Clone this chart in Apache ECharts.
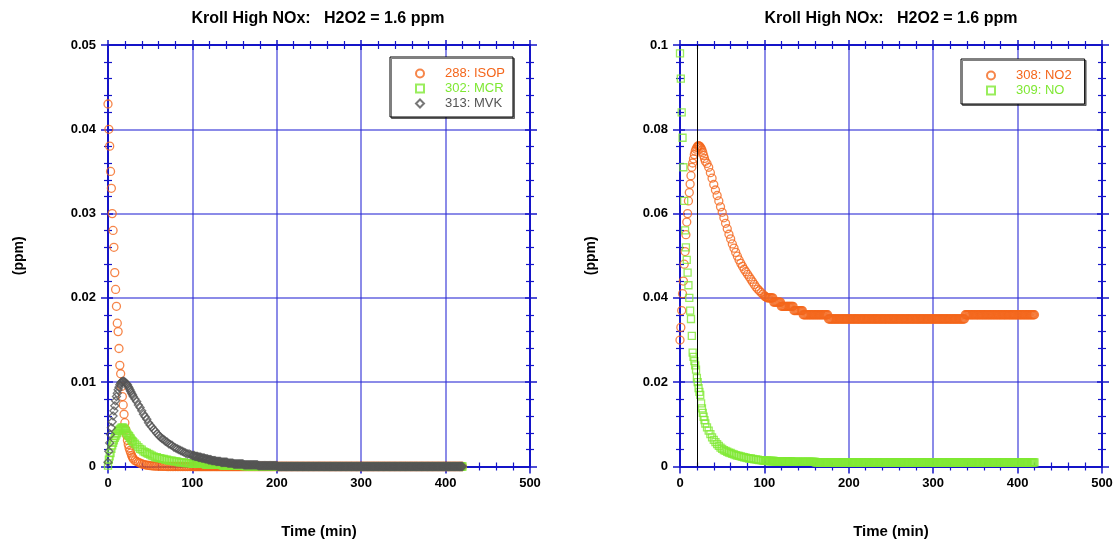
<!DOCTYPE html>
<html>
<head>
<meta charset="utf-8">
<title>Kroll High NOx</title>
<script src="https://cdn.jsdelivr.net/npm/echarts@6/dist/echarts.min.js"></script>
<style>
  html, body { margin: 0; padding: 0; background: #fff; }
  #chart { width: 1114px; height: 540px; }
</style>
</head>
<body>
<div id="chart"></div>
<script>
// time (min), shared by all series
const times = [
  0,1,2,3,4,5,6,7,8,9,10,11,12,13,14,15,16,17,18,19,20,21,22,23,24,25,26,27,28,29,30,
  32,34,36,38,40,42,44,46,48,50,52,54,56,58,60,62,64,66,68,70,72,74,76,78,80,82,84,86,88,90,92,94,96,98,100,
  101,102,103,104,105,106,107,108,109,110,111,112,113,114,115,116,117,118,119,120,
  121,122,123,124,125,126,127,128,129,130,131,132,133,134,135,136,137,138,139,140,
  141,142,143,144,145,146,147,148,149,150,151,152,153,154,155,156,157,158,159,160,
  161,162,163,164,165,166,167,168,169,170,171,172,173,174,175,176,177,178,179,180,
  181,182,183,184,185,186,187,188,189,190,191,192,193,194,195,196,197,198,199,200,
  201,202,203,204,205,206,207,208,209,210,211,212,213,214,215,216,217,218,219,220,
  221,222,223,224,225,226,227,228,229,230,231,232,233,234,235,236,237,238,239,240,
  241,242,243,244,245,246,247,248,249,250,251,252,253,254,255,256,257,258,259,260,
  261,262,263,264,265,266,267,268,269,270,271,272,273,274,275,276,277,278,279,280,
  281,282,283,284,285,286,287,288,289,290,291,292,293,294,295,296,297,298,299,300,
  301,302,303,304,305,306,307,308,309,310,311,312,313,314,315,316,317,318,319,320,
  321,322,323,324,325,326,327,328,329,330,331,332,333,334,335,336,337,338,339,340,
  341,342,343,344,345,346,347,348,349,350,351,352,353,354,355,356,357,358,359,360,
  361,362,363,364,365,366,367,368,369,370,371,372,373,374,375,376,377,378,379,380,
  381,382,383,384,385,386,387,388,389,390,391,392,393,394,395,396,397,398,399,400,
  401,402,403,404,405,406,407,408,409,410,411,412,413,414,415,416,417,418,419,420
];

// left panel (ppm)
const isop = [
  0.043,0.040,0.038,0.035,0.033,0.030,0.028,0.026,0.023,0.021,0.019,0.017,0.016,0.014,0.012,0.011,0.0095,0.0083,0.0073,0.0062,0.0052,0.0044,0.0037,0.0031,0.0026,0.0022,0.0019,0.0016,0.0013,0.0011,0.0009,
  0.0007,0.0006,0.0005,0.0004,0.0003,0.00025,0.0002,0.00016,0.00013,0.0001,0.00008,0.00006,0.00005,0.00004,0.00003,0.00002,0.00002,0.00001,0.00001,0,0,0,0,0,0,0,0,0,0,0,0,0,0,0,0,
  0,0,0,0,0,0,0,0,0,0,0,0,0,0,0,0,0,0,0,0,
  0,0,0,0,0,0,0,0,0,0,0,0,0,0,0,0,0,0,0,0,
  0,0,0,0,0,0,0,0,0,0,0,0,0,0,0,0,0,0,0,0,
  0,0,0,0,0,0,0,0,0,0,0,0,0,0,0,0,0,0,0,0,
  0,0,0,0,0,0,0,0,0,0,0,0,0,0,0,0,0,0,0,0,
  0,0,0,0,0,0,0,0,0,0,0,0,0,0,0,0,0,0,0,0,
  0,0,0,0,0,0,0,0,0,0,0,0,0,0,0,0,0,0,0,0,
  0,0,0,0,0,0,0,0,0,0,0,0,0,0,0,0,0,0,0,0,
  0,0,0,0,0,0,0,0,0,0,0,0,0,0,0,0,0,0,0,0,
  0,0,0,0,0,0,0,0,0,0,0,0,0,0,0,0,0,0,0,0,
  0,0,0,0,0,0,0,0,0,0,0,0,0,0,0,0,0,0,0,0,
  0,0,0,0,0,0,0,0,0,0,0,0,0,0,0,0,0,0,0,0,
  0,0,0,0,0,0,0,0,0,0,0,0,0,0,0,0,0,0,0,0,
  0,0,0,0,0,0,0,0,0,0,0,0,0,0,0,0,0,0,0,0,
  0,0,0,0,0,0,0,0,0,0,0,0,0,0,0,0,0,0,0,0,
  0,0,0,0,0,0,0,0,0,0,0,0,0,0,0,0,0,0,0,0
];
const mcr = [
  0.0001,0.0008,0.0012,0.0016,0.0021,0.0025,0.0028,0.0031,0.0034,0.0036,0.0038,0.0040,0.0042,0.0043,0.0044,0.0045,0.0046,0.0046,0.0046,0.0045,0.0044,0.0042,0.0040,0.0038,0.0037,0.0036,0.0034,0.0033,0.0031,0.0030,0.0029,
  0.0027,0.0025,0.0023,0.0021,0.0020,0.0018,0.0017,0.0016,0.0015,0.0014,0.0013,0.0012,0.0011,0.0011,0.0010,0.0010,0.0009,0.0009,0.0008,0.0008,0.0007,0.0007,0.0007,0.0006,0.0006,0.0006,0.0005,0.0005,0.0005,0.0005,0.0004,0.0004,0.0004,0.0004,0.0003,
  0.0003,0.0003,0.0003,0.0003,0.0003,0.0003,0.0003,0.0003,0.0003,0.0003,0.0003,0.0003,0.0003,0.0003,0.0003,0.0002,0.0002,0.0002,0.0002,0.0002,
  0.0002,0.0002,0.0002,0.0002,0.0002,0.0002,0.0002,0.0002,0.0002,0.0002,0.0002,0.0002,0.0002,0.0002,0.0002,0.0001,0.0001,0.0001,0.0001,0.0001,
  0.0001,0.0001,0.0001,0.0001,0.0001,0.0001,0.0001,0.0001,0.0001,0.0001,0.0001,0.0001,0.0001,0.0001,0.0001,0.0001,0.0001,0.0001,0.0001,0.0001,
  0.00005,0.00005,0.00005,0.00005,0.00005,0.00005,0.00005,0.00005,0.00005,0.00005,0.00005,0.00005,0.00005,0.00005,0.00005,0.00005,0.00005,0.00005,0.00005,0.00005,
  0.00005,0.00005,0.00005,0.00005,0.00005,0.00005,0.00005,0.00005,0.00005,0.00005,0.00005,0.00005,0.00005,0.00005,0.00005,0.00005,0.00005,0.00005,0.00005,0.00005,
  0,0,0,0,0,0,0,0,0,0,0,0,0,0,0,0,0,0,0,0,
  0,0,0,0,0,0,0,0,0,0,0,0,0,0,0,0,0,0,0,0,
  0,0,0,0,0,0,0,0,0,0,0,0,0,0,0,0,0,0,0,0,
  0,0,0,0,0,0,0,0,0,0,0,0,0,0,0,0,0,0,0,0,
  0,0,0,0,0,0,0,0,0,0,0,0,0,0,0,0,0,0,0,0,
  0,0,0,0,0,0,0,0,0,0,0,0,0,0,0,0,0,0,0,0,
  0,0,0,0,0,0,0,0,0,0,0,0,0,0,0,0,0,0,0,0,
  0,0,0,0,0,0,0,0,0,0,0,0,0,0,0,0,0,0,0,0,
  0,0,0,0,0,0,0,0,0,0,0,0,0,0,0,0,0,0,0,0,
  0,0,0,0,0,0,0,0,0,0,0,0,0,0,0,0,0,0,0,0,
  0,0,0,0,0,0,0,0,0,0,0,0,0,0,0,0,0,0,0,0
];
const mvk = [
  0.0005,0.0018,0.0028,0.0038,0.0046,0.0053,0.0060,0.0066,0.0072,0.0078,0.0083,0.0087,0.0091,0.0094,0.0097,0.0099,0.0100,0.0101,0.0101,0.0101,0.0100,0.0099,0.0098,0.0097,0.0095,0.0093,0.0091,0.0089,0.0087,0.0085,0.0083,
  0.0080,0.0077,0.0073,0.0070,0.0066,0.0062,0.0059,0.0056,0.0052,0.0049,0.0047,0.0044,0.0042,0.0039,0.0037,0.0035,0.0033,0.0032,0.0030,0.0029,0.0027,0.0026,0.0025,0.0023,0.0022,0.0021,0.0020,0.0019,0.0018,0.0017,0.0016,0.0015,0.0015,0.0014,0.0013,
  0.0013,0.0013,0.0012,0.0012,0.0012,0.0012,0.0011,0.0011,0.0011,0.0011,0.0010,0.0010,0.0010,0.0010,0.0009,0.0009,0.0009,0.0009,0.0008,0.0008,
  0.0008,0.0008,0.0007,0.0007,0.0007,0.0007,0.0007,0.0006,0.0006,0.0006,0.0006,0.0006,0.0006,0.0005,0.0005,0.0005,0.0005,0.0005,0.0005,0.0005,
  0.0005,0.0004,0.0004,0.0004,0.0004,0.0004,0.0004,0.0004,0.0003,0.0003,0.0003,0.0003,0.0003,0.0003,0.0003,0.0003,0.0003,0.0003,0.0003,0.0003,
  0.0002,0.0002,0.0002,0.0002,0.0002,0.0002,0.0002,0.0002,0.0002,0.0002,0.0002,0.0002,0.0002,0.0002,0.0002,0.0002,0.0002,0.0001,0.0001,0.0001,
  0.0001,0.0001,0.0001,0.0001,0.0001,0.0001,0.0001,0.0001,0.0001,0.0001,0.0001,0.0001,0.0001,0.0001,0.0001,0.0001,0.0001,0.0001,0.0001,0.0001,
  0,0,0,0,0,0,0,0,0,0,0,0,0,0,0,0,0,0,0,0,
  0,0,0,0,0,0,0,0,0,0,0,0,0,0,0,0,0,0,0,0,
  0,0,0,0,0,0,0,0,0,0,0,0,0,0,0,0,0,0,0,0,
  0,0,0,0,0,0,0,0,0,0,0,0,0,0,0,0,0,0,0,0,
  0,0,0,0,0,0,0,0,0,0,0,0,0,0,0,0,0,0,0,0,
  0,0,0,0,0,0,0,0,0,0,0,0,0,0,0,0,0,0,0,0,
  0,0,0,0,0,0,0,0,0,0,0,0,0,0,0,0,0,0,0,0,
  0,0,0,0,0,0,0,0,0,0,0,0,0,0,0,0,0,0,0,0,
  0,0,0,0,0,0,0,0,0,0,0,0,0,0,0,0,0,0,0,0,
  0,0,0,0,0,0,0,0,0,0,0,0,0,0,0,0,0,0,0,0,
  0,0,0,0,0,0,0,0,0,0,0,0,0,0,0,0,0,0,0,0
];

// right panel (ppm)
const no2 = [
  0.030,0.033,0.037,0.041,0.044,0.048,0.051,0.055,0.058,0.060,0.063,0.065,0.067,0.069,0.071,0.072,0.073,0.074,0.0748,0.0753,0.0757,0.0760,0.0761,0.0760,0.0758,0.0755,0.0751,0.0745,0.0738,0.0731,0.0724,
  0.0719,0.0710,0.0697,0.0684,0.0669,0.0656,0.0643,0.0630,0.0616,0.0603,0.0590,0.0577,0.0564,0.0551,0.0540,0.0528,0.0518,0.0508,0.0499,0.0490,0.0482,0.0475,0.0468,0.0462,0.0456,0.0450,0.0444,0.0438,0.0432,0.0426,0.0421,0.0417,0.0413,0.0409,0.0405,
  0.0403,0.0402,0.0401,0.040,0.040,0.040,0.040,0.040,0.040,0.040,0.039,0.039,0.039,0.039,0.039,0.039,0.039,0.039,0.039,0.038,
  0.038,0.038,0.038,0.038,0.038,0.038,0.038,0.038,0.038,0.038,0.038,0.038,0.038,0.038,0.037,0.037,0.037,0.037,0.037,0.037,
  0.037,0.037,0.037,0.037,0.037,0.036,0.036,0.036,0.036,0.036,0.036,0.036,0.036,0.036,0.036,0.036,0.036,0.036,0.036,0.036,
  0.036,0.036,0.036,0.036,0.036,0.036,0.036,0.036,0.036,0.036,0.036,0.036,0.036,0.036,0.036,0.035,0.035,0.035,0.035,0.035,
  0.035,0.035,0.035,0.035,0.035,0.035,0.035,0.035,0.035,0.035,0.035,0.035,0.035,0.035,0.035,0.035,0.035,0.035,0.035,0.035,
  0.035,0.035,0.035,0.035,0.035,0.035,0.035,0.035,0.035,0.035,0.035,0.035,0.035,0.035,0.035,0.035,0.035,0.035,0.035,0.035,
  0.035,0.035,0.035,0.035,0.035,0.035,0.035,0.035,0.035,0.035,0.035,0.035,0.035,0.035,0.035,0.035,0.035,0.035,0.035,0.035,
  0.035,0.035,0.035,0.035,0.035,0.035,0.035,0.035,0.035,0.035,0.035,0.035,0.035,0.035,0.035,0.035,0.035,0.035,0.035,0.035,
  0.035,0.035,0.035,0.035,0.035,0.035,0.035,0.035,0.035,0.035,0.035,0.035,0.035,0.035,0.035,0.035,0.035,0.035,0.035,0.035,
  0.035,0.035,0.035,0.035,0.035,0.035,0.035,0.035,0.035,0.035,0.035,0.035,0.035,0.035,0.035,0.035,0.035,0.035,0.035,0.035,
  0.035,0.035,0.035,0.035,0.035,0.035,0.035,0.035,0.035,0.035,0.035,0.035,0.035,0.035,0.035,0.035,0.035,0.035,0.035,0.035,
  0.035,0.035,0.035,0.035,0.035,0.035,0.035,0.035,0.035,0.035,0.035,0.035,0.035,0.035,0.035,0.035,0.035,0.036,0.036,0.036,
  0.036,0.036,0.036,0.036,0.036,0.036,0.036,0.036,0.036,0.036,0.036,0.036,0.036,0.036,0.036,0.036,0.036,0.036,0.036,0.036,
  0.036,0.036,0.036,0.036,0.036,0.036,0.036,0.036,0.036,0.036,0.036,0.036,0.036,0.036,0.036,0.036,0.036,0.036,0.036,0.036,
  0.036,0.036,0.036,0.036,0.036,0.036,0.036,0.036,0.036,0.036,0.036,0.036,0.036,0.036,0.036,0.036,0.036,0.036,0.036,0.036,
  0.036,0.036,0.036,0.036,0.036,0.036,0.036,0.036,0.036,0.036,0.036,0.036,0.036,0.036,0.036,0.036,0.036,0.036,0.036,0.036
];
const no = [
  0.098,0.092,0.084,0.078,0.071,0.063,0.056,0.052,0.049,0.046,0.043,0.040,0.037,0.035,0.031,0.027,0.026,0.025,0.024,0.023,0.021,0.020,0.0186,0.0177,0.0170,0.0150,0.0138,0.0127,0.0118,0.0110,0.0102,
  0.0093,0.0085,0.0077,0.0069,0.0063,0.0058,0.0053,0.0049,0.0045,0.0042,0.0039,0.0037,0.0035,0.0033,0.0032,0.0030,0.0029,0.0027,0.0026,0.0025,0.0024,0.0023,0.0022,0.0021,0.0020,0.0019,0.0019,0.0018,0.0017,0.0017,0.0016,0.0015,0.0015,0.0014,0.0014,
  0.0014,0.0014,0.0014,0.0013,0.0013,0.0013,0.0013,0.0013,0.0013,0.0013,0.0013,0.0012,0.0012,0.0012,0.0012,0.0012,0.0012,0.0012,0.0012,0.0012,
  0.0012,0.0012,0.0012,0.0012,0.0012,0.0012,0.0012,0.0012,0.0012,0.0012,0.0012,0.0012,0.0011,0.0011,0.0011,0.0011,0.0011,0.0011,0.0011,0.0011,
  0.0011,0.0011,0.0011,0.0011,0.0011,0.0011,0.0011,0.0011,0.0011,0.0011,0.0011,0.0011,0.0011,0.0011,0.0011,0.0011,0.0011,0.0011,0.0011,0.0011,
  0.0010,0.0010,0.0010,0.0010,0.0010,0.0010,0.0010,0.0010,0.0010,0.0010,0.001,0.001,0.001,0.001,0.001,0.001,0.001,0.001,0.001,0.001,
  0.001,0.001,0.001,0.001,0.001,0.001,0.001,0.001,0.001,0.001,0.001,0.001,0.001,0.001,0.001,0.001,0.001,0.001,0.001,0.001,
  0.001,0.001,0.001,0.001,0.001,0.001,0.001,0.001,0.001,0.001,0.001,0.001,0.001,0.001,0.001,0.001,0.001,0.001,0.001,0.001,
  0.001,0.001,0.001,0.001,0.001,0.001,0.001,0.001,0.001,0.001,0.001,0.001,0.001,0.001,0.001,0.001,0.001,0.001,0.001,0.001,
  0.001,0.001,0.001,0.001,0.001,0.001,0.001,0.001,0.001,0.001,0.001,0.001,0.001,0.001,0.001,0.001,0.001,0.001,0.001,0.001,
  0.001,0.001,0.001,0.001,0.001,0.001,0.001,0.001,0.001,0.001,0.001,0.001,0.001,0.001,0.001,0.001,0.001,0.001,0.001,0.001,
  0.001,0.001,0.001,0.001,0.001,0.001,0.001,0.001,0.001,0.001,0.001,0.001,0.001,0.001,0.001,0.001,0.001,0.001,0.001,0.001,
  0.001,0.001,0.001,0.001,0.001,0.001,0.001,0.001,0.001,0.001,0.001,0.001,0.001,0.001,0.001,0.001,0.001,0.001,0.001,0.001,
  0.001,0.001,0.001,0.001,0.001,0.001,0.001,0.001,0.001,0.001,0.001,0.001,0.001,0.001,0.001,0.001,0.001,0.001,0.001,0.001,
  0.001,0.001,0.001,0.001,0.001,0.001,0.001,0.001,0.001,0.001,0.001,0.001,0.001,0.001,0.001,0.001,0.001,0.001,0.001,0.001,
  0.001,0.001,0.001,0.001,0.001,0.001,0.001,0.001,0.001,0.001,0.001,0.001,0.001,0.001,0.001,0.001,0.001,0.001,0.001,0.001,
  0.001,0.001,0.001,0.001,0.001,0.001,0.001,0.001,0.001,0.001,0.001,0.001,0.001,0.001,0.001,0.001,0.001,0.001,0.001,0.001,
  0.001,0.001,0.001,0.001,0.001,0.001,0.001,0.001,0.001,0.001,0.001,0.001,0.001,0.001,0.001,0.001,0.001,0.001,0.001,0.001
];

const titleText = 'Kroll High NOx:   H2O2 = 1.6 ppm';
const xName = 'Time (min)';
const yName = '(ppm)';
const markTime = 20;

const ORANGE = '#f4661b';
const GREEN = '#7fe833';
const GRAY = '#555555';
const AXIS = '#1414c8';
const GRID = 'rgba(50,50,215,0.75)';
const FONT = '"Liberation Sans", Arial, sans-serif';

const pairs = vals => times.map((t, i) => [t, vals[i]]);

// several overlapping axes on each edge so the ticks cross the frame
function tick(inside, len) {
  return {
    axisTick: { show: true, inside: inside, length: len, lineStyle: { color: AXIS, width: 1.5 } },
    minorTick: { show: true, splitNumber: 5, length: 4, lineStyle: { color: AXIS, width: 1.2 } }
  };
}

function xAxes(grid) {
  const base = {
    gridIndex: grid, type: 'value', min: 0, max: 500, interval: 100,
    axisLine: { show: true, onZero: false, lineStyle: { color: AXIS, width: 2 } },
    axisLabel: { show: false },
    splitLine: { show: false }
  };
  return [
    Object.assign({}, base, tick(false, 7), {
      position: 'bottom',
      axisLabel: { show: true, color: '#000', fontWeight: 'bold', fontSize: 13, fontFamily: FONT, margin: 10 },
      splitLine: { show: true, lineStyle: { color: GRID, width: 1.5 } },
      name: xName, nameLocation: 'middle', nameGap: 58,
      nameTextStyle: { color: '#000', fontWeight: 'bold', fontSize: 15, fontFamily: FONT }
    }),
    Object.assign({}, base, tick(true, 5), { position: 'bottom' }),
    Object.assign({}, base, tick(false, 5), { position: 'top' }),
    Object.assign({}, base, tick(true, 5), { position: 'top' })
  ];
}

function yAxes(grid, max, interval) {
  const base = {
    gridIndex: grid, type: 'value', min: 0, max: max, interval: interval,
    axisLine: { show: true, onZero: false, lineStyle: { color: AXIS, width: 2 } },
    axisLabel: { show: false },
    splitLine: { show: false }
  };
  return [
    Object.assign({}, base, tick(false, 7), {
      position: 'left',
      axisLabel: { show: true, color: '#000', fontWeight: 'bold', fontSize: 13, fontFamily: FONT, margin: 12 },
      splitLine: { show: true, lineStyle: { color: GRID, width: 1.5 } },
      name: yName, nameLocation: 'middle', nameGap: 82,
      nameTextStyle: { color: '#000', fontWeight: 'bold', fontSize: 14, fontFamily: FONT }
    }),
    Object.assign({}, base, tick(true, 5), { position: 'left' }),
    Object.assign({}, base, tick(false, 7), { position: 'right' }),
    Object.assign({}, base, tick(true, 5), { position: 'right' })
  ];
}

function scatter(name, vals, symbol, size, color, grid) {
  return {
    name: name, type: 'scatter', data: pairs(vals),
    xAxisIndex: grid * 4, yAxisIndex: grid * 4,
    symbol: symbol, symbolSize: size,
    itemStyle: { color: 'rgba(0,0,0,0)', borderColor: color, borderWidth: 1.3 },
    emphasis: { disabled: true }
  };
}

function legendBox(left, top, names, colors, padding) {
  return {
    left: left, top: top, orient: 'vertical', selectedMode: false,
    data: names.map((n, i) => ({ name: n, textStyle: { color: colors[i] } })),
    itemWidth: 8, itemHeight: 8, itemGap: 0,
    padding: padding,
    borderColor: '#000', borderWidth: 1, backgroundColor: '#fff',
    shadowColor: 'rgba(0,0,0,0.5)', shadowOffsetX: 1.5, shadowOffsetY: 1.5, shadowBlur: 0,
    textStyle: { fontSize: 13, lineHeight: 15, fontFamily: FONT, padding: [0, 0, 0, 16] }
  };
}

const chart = echarts.init(document.getElementById('chart'));

const titleStyle = { color: '#000', fontWeight: 'bold', fontSize: 16, fontFamily: FONT };

const no2Series = scatter('308: NO2', no2, 'circle', 8, ORANGE, 1);
no2Series.markLine = {
  silent: true, symbol: ['none', 'none'], label: { show: false },
  lineStyle: { color: '#000', width: 1, type: 'solid' },
  data: [{ xAxis: markTime }]
};

chart.setOption({
  animation: false,
  title: [
    { text: titleText, left: 313, top: 6, textAlign: 'center', textStyle: titleStyle },
    { text: titleText, left: 886, top: 6, textAlign: 'center', textStyle: titleStyle }
  ],
  legend: [
    legendBox(390, 57, ['288: ISOP', '302: MCR', '313: MVK'], [ORANGE, GREEN, GRAY], [9, 8, 6, 25]),
    legendBox(961, 59, ['308: NO2', '309: NO'], [ORANGE, GREEN], [9, 13, 6, 25])
  ],
  grid: [
    { left: 108, top: 45, width: 422, height: 421.5, outerBoundsMode: 'none' },
    { left: 680, top: 45, width: 422, height: 421.5, outerBoundsMode: 'none' }
  ],
  xAxis: xAxes(0).concat(xAxes(1)),
  yAxis: yAxes(0, 0.05, 0.01).concat(yAxes(1, 0.1, 0.02)),
  series: [
    scatter('288: ISOP', isop, 'circle', 8, ORANGE, 0),
    scatter('302: MCR', mcr, 'rect', 7, GREEN, 0),
    scatter('313: MVK', mvk, 'diamond', 8, GRAY, 0),
    no2Series,
    scatter('309: NO', no, 'rect', 7, GREEN, 1)
  ]
});
</script>
</body>
</html>
